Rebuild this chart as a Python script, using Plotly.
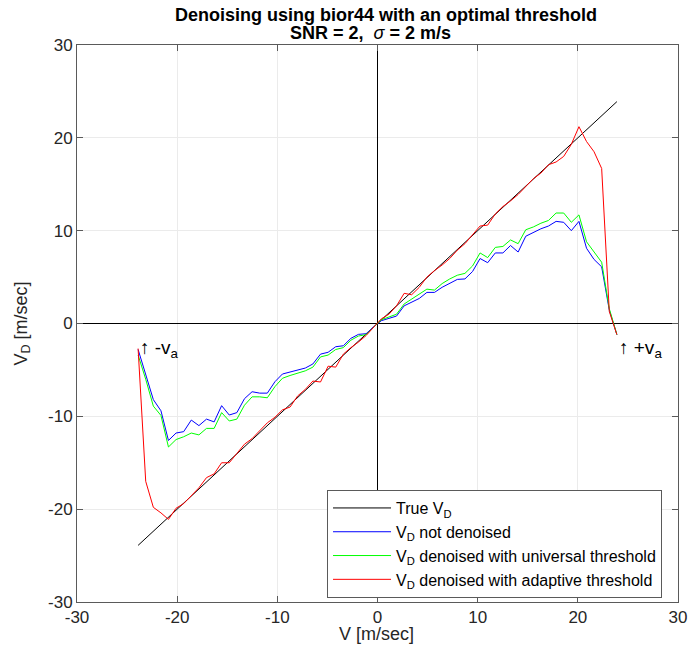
import plotly.graph_objects as go

# ---------------- data ----------------
V = [-23.90, -23.14, -22.38, -21.62, -20.87, -20.11, -19.35, -18.59, -17.83, -17.07,
     -16.31, -15.56, -14.80, -14.04, -13.28, -12.52, -11.76, -11.00, -10.24, -9.49,
     -8.73, -7.97, -7.21, -6.45, -5.69, -4.93, -4.17, -3.41, -2.66, -1.90,
     -1.14, -0.38, 0.38, 1.14, 1.90, 2.66, 3.41, 4.17, 4.93, 5.69,
     6.45, 7.21, 7.97, 8.73, 9.49, 10.24, 11.00, 11.76, 12.52, 13.28,
     14.04, 14.80, 15.56, 16.31, 17.07, 17.83, 18.59, 19.35, 20.11, 20.87,
     21.62, 22.38, 23.14, 23.90]

TRUE_V = [-23.9, 23.9]
TRUE_VD = [-23.9, 23.9]

VD_NOISY = [-2.8, -5.4, -8.2, -9.4, -12.6, -11.8, -11.65, -10.4, -11.0, -10.3,
            -10.6, -8.85, -9.86, -9.6, -8.1, -7.35, -7.5, -7.5, -6.27, -5.44,
            -5.2, -5.0, -4.8, -4.36, -3.3, -3.1, -2.5, -2.4, -1.6, -1.17,
            -1.1, -0.35, 0.3, 0.55, 0.8, 1.9, 2.3, 2.7, 3.35, 3.35,
            3.9, 4.35, 4.75, 4.8, 5.6, 7.0, 6.55, 7.6, 7.6, 8.4,
            7.7, 9.4, 9.8, 10.2, 10.5, 11.0, 10.9, 10.0, 11.0, 8.1,
            6.9, 6.1, 1.45, -1.2]

VD_UNIVERSAL = [-3.4, -6.0, -8.9, -9.9, -13.3, -12.5, -12.2, -11.8, -12.0, -11.3,
                -11.3, -9.6, -10.5, -10.3, -8.8, -7.9, -7.9, -8.0, -6.8, -5.9,
                -5.6, -5.35, -5.1, -4.7, -3.6, -3.4, -2.8, -2.6, -1.8, -1.35,
                -1.2, -0.4, 0.4, 0.7, 1.0, 2.1, 2.6, 3.1, 3.7, 3.6,
                4.3, 4.8, 5.2, 5.4, 6.2, 7.6, 7.1, 8.2, 8.3, 9.0,
                8.6, 10.1, 10.4, 10.8, 11.1, 11.9, 11.9, 10.9, 11.7, 8.8,
                7.7, 6.6, 1.6, -1.2]

VD_ADAPTIVE = [-2.7, -17.0, -19.8, -20.4, -21.1, -19.9, -19.4, -18.5, -17.7, -16.6,
               -16.2, -15.0, -15.0, -14.0, -13.0, -12.4, -11.6, -10.7, -10.1, -9.3,
               -9.0, -7.8, -7.1, -6.2, -6.3, -4.6, -4.7, -3.3, -2.6, -2.0,
               -1.3, -0.4, 0.5, 1.0, 1.9, 3.25, 3.1, 3.9, 5.0, 5.7,
               6.3, 7.0, 7.9, 8.6, 9.5, 10.5, 10.6, 11.8, 12.6, 13.2,
               13.9, 14.8, 15.6, 16.2, 17.1, 17.4, 18.0, 19.3, 21.2, 19.6,
               18.5, 16.7, 1.3, -1.2]

TICKS = [-30, -20, -10, 0, 10, 20, 30]
TICK_LABELS = ["-30", "-20", "-10", "0", "10", "20", "30"]

SERIES_NAMES = ["True V<sub>D</sub>",
                "V<sub>D</sub> not denoised",
                "V<sub>D</sub> denoised with universal threshold",
                "V<sub>D</sub> denoised with adaptive threshold"]

MARK_NEG = (-23.9, -2.7)
MARK_POS = (23.9, -2.7)

FONT = "Liberation Sans, Arial, Helvetica, sans-serif"

# ---------------- figure ----------------
fig = go.Figure()
fig.add_trace(go.Scatter(x=TRUE_V, y=TRUE_VD, mode="lines", name=SERIES_NAMES[0],
                         line=dict(color="#000000", width=1)))
fig.add_trace(go.Scatter(x=V, y=VD_NOISY, mode="lines", name=SERIES_NAMES[1],
                         line=dict(color="#0000ff", width=1)))
fig.add_trace(go.Scatter(x=V, y=VD_UNIVERSAL, mode="lines", name=SERIES_NAMES[2],
                         line=dict(color="#00ff00", width=1)))
fig.add_trace(go.Scatter(x=V, y=VD_ADAPTIVE, mode="lines", name=SERIES_NAMES[3],
                         line=dict(color="#ff0000", width=1)))

axis_common = dict(
    range=[-30, 30], tickmode="array", tickvals=TICKS, ticktext=TICK_LABELS,
    automargin=False,
    showgrid=True, gridcolor="#ebebeb", gridwidth=1,
    zeroline=True, zerolinecolor="#000000", zerolinewidth=1,
    showline=True, linecolor="#5a5a5a", linewidth=1, mirror="ticks",
    ticks="inside", ticklen=6, tickcolor="#5a5a5a", tickwidth=1,
    tickfont=dict(family=FONT, size=17, color="#262626"),
    fixedrange=True,
)
fig.update_xaxes(**axis_common)
fig.update_yaxes(**axis_common)

NB = "\u00a0"
fig.update_layout(
    width=688, height=650,
    margin=dict(l=77, r=10, t=45, b=48, autoexpand=False),
    paper_bgcolor="white", plot_bgcolor="white",
    showlegend=True,
    legend=dict(x=0.416, y=0.201, xanchor="left", yanchor="top",
                bgcolor="white", bordercolor="#5a5a5a", borderwidth=1,
                font=dict(family=FONT, size=16, color="#000000"),
                itemwidth=58, tracegroupgap=0),
    annotations=[
        dict(text="<b>Denoising using bior44 with an optimal threshold</b>",
             xref="paper", yref="paper", x=0.514, y=1.0539,
             xanchor="center", yanchor="middle", showarrow=False,
             font=dict(family=FONT, size=18, color="#000000")),
        dict(text=f"<b>SNR = 2,{NB}{NB}</b><i>σ</i><b> = 2 m/s</b>",
             xref="paper", yref="paper", x=0.489, y=1.0224,
             xanchor="center", yanchor="middle", showarrow=False,
             font=dict(family=FONT, size=18, color="#000000")),
        dict(text="V [m/sec]", xref="paper", yref="paper", x=0.498, y=-0.0575,
             xanchor="center", yanchor="middle", showarrow=False,
             font=dict(family=FONT, size=18, color="#262626")),
        dict(text="V<sub>D</sub> [m/sec]", xref="paper", yref="paper",
             x=-0.0915, y=0.5, xanchor="center", yanchor="middle",
             textangle=-90, showarrow=False,
             font=dict(family=FONT, size=18, color="#262626")),
        dict(text="↑ -v<sub>a</sub>", xref="x", yref="y",
             x=MARK_NEG[0], y=MARK_NEG[1], xanchor="left", yanchor="middle",
             showarrow=False, font=dict(family=FONT, size=19, color="#000000")),
        dict(text="↑ +v<sub>a</sub>", xref="x", yref="y",
             x=MARK_POS[0], y=MARK_POS[1], xanchor="left", yanchor="middle",
             showarrow=False, font=dict(family=FONT, size=19, color="#000000")),
    ],
)

fig.write_html("out.html")
